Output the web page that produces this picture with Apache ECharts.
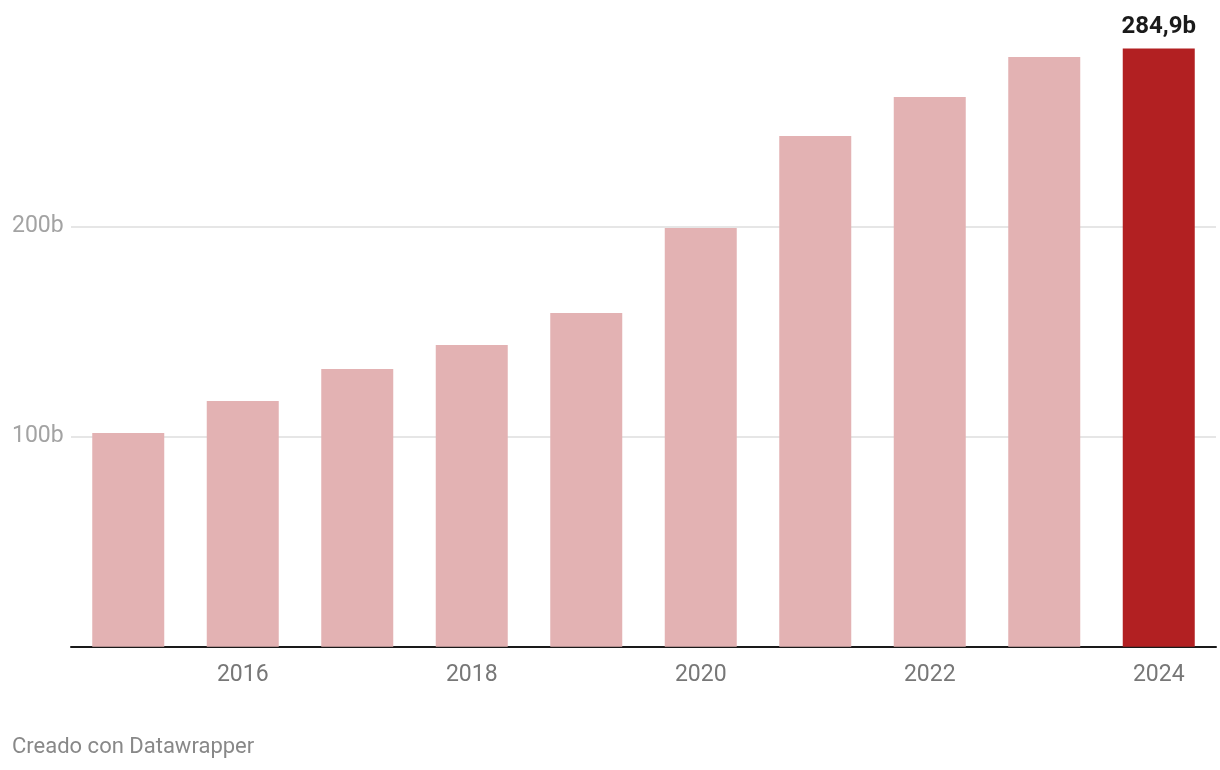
<!DOCTYPE html>
<html>
<head>
<meta charset="utf-8">
<script src="https://cdn.jsdelivr.net/npm/echarts@6/dist/echarts.min.js"></script>
<style>
html,body{margin:0;padding:0;background:#fff;}
#chart{width:1220px;height:770px;}
</style>
</head>
<body>
<div id="chart"></div>
<script>
const categories = ['2015','2016','2017','2018','2019','2020','2021','2022','2023','2024'];
const values = [101.8, 117.0, 132.2, 143.7, 158.9, 199.4, 243.2, 261.8, 280.8, 284.9];
const highlightLabel = '284,9b';

const paleColor = '#e3b2b3';
const redColor = '#b22022';

const chart = echarts.init(document.getElementById('chart'), null, {renderer: 'canvas'});
const lastIdx = values.length - 1;

chart.setOption({
  animation: false,
  textStyle: {fontFamily: 'Roboto'},
  grid: {left: 71, right: 4, top: 16.7, bottom: 123.3, containLabel: false},
  xAxis: {
    type: 'category',
    data: categories,
    axisLine: {show: true, lineStyle: {color: '#1a1a1a', width: 2}},
    axisTick: {show: false},
    axisLabel: {
      interval: function (i) { return i % 2 === 1; },
      color: '#777777',
      fontSize: 23,
      fontFamily: 'Roboto',
      margin: 17
    },
    splitLine: {show: false}
  },
  yAxis: {
    type: 'value',
    min: 0,
    max: 300,
    interval: 100,
    axisLine: {show: false},
    axisTick: {show: false},
    axisLabel: {
      align: 'left',
      margin: 59,
      padding: [4, 0, 0, 0],
      color: '#a3a3a3',
      fontSize: 23,
      fontFamily: 'Roboto',
      formatter: function (v) { return (v === 0 || v === 300) ? '' : v + 'b'; }
    },
    splitLine: {show: true, showMinLine: false, showMaxLine: false, lineStyle: {color: '#e6e6e6', width: 2}}
  },
  series: [{
    type: 'bar',
    barWidth: 72,
    data: values.map(function (v, i) {
      return {
        value: v,
        itemStyle: {color: i === lastIdx ? redColor : paleColor},
        label: i === lastIdx ? {
          show: true,
          position: 'top',
          distance: 9,
          formatter: highlightLabel,
          color: '#1a1a1a',
          fontSize: 24,
          fontWeight: 'bold',
          fontFamily: 'Roboto'
        } : {show: false}
      };
    })
  }],
  graphic: [{
    type: 'text',
    left: 12,
    top: 736,
    style: {
      text: 'Creado con Datawrapper',
      fill: '#888888',
      fontSize: 22,
      fontFamily: 'Roboto'
    }
  }]
});
</script>
</body>
</html>
